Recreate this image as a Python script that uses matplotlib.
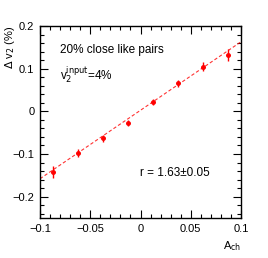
import numpy as np
import matplotlib
matplotlib.use("Agg")
from matplotlib import pyplot as plt
from matplotlib.ticker import MultipleLocator

plt.rcParams['font.family'] = ['Liberation Sans', 'DejaVu Sans']

# measured points
a_ch = [-0.0875, -0.0625, -0.0375, -0.0125, 0.0125, 0.0375, 0.0625, 0.0875]
dv2 = [-0.143, -0.098, -0.063, -0.027, 0.022, 0.066, 0.105, 0.132]
dv2_err = [0.014, 0.010, 0.008, 0.007, 0.007, 0.008, 0.010, 0.014]
a_ch_err = [0.002] * 8

# linear fit
slope = 1.605
intercept = 0.0025

fig = plt.figure(figsize=(2.68, 2.58), dpi=100)
ax = fig.add_axes([40/268, 1 - 218/258, 201/268, 192/258])

xl = np.array([-0.1, 0.1])
ax.plot(xl, slope*xl + intercept, color='red', ls=(0, (3, 2)), lw=0.8, alpha=0.8)
ax.errorbar(a_ch, dv2, yerr=dv2_err, xerr=a_ch_err, fmt='o', color='red',
            ms=2.5, elinewidth=1, capsize=0)

def fmt(v, p):
    return '0' if abs(v) < 1e-9 else ('%g' % v).replace('-', '\u2212')

ax.set_xlim(-0.1, 0.1)
ax.set_ylim(-0.25, 0.2)
ax.xaxis.set_major_locator(MultipleLocator(0.05))
ax.xaxis.set_minor_locator(MultipleLocator(0.01))
ax.yaxis.set_major_locator(MultipleLocator(0.1))
ax.yaxis.set_minor_locator(MultipleLocator(0.02))
ax.xaxis.set_major_formatter(plt.FuncFormatter(fmt))
ax.yaxis.set_major_formatter(plt.FuncFormatter(fmt))
ax.tick_params(which='both', direction='in', top=True, right=True, labelsize=8, width=0.8, pad=4)
ax.tick_params(which='major', length=6)
ax.tick_params(which='minor', length=3)
for s in ax.spines.values():
    s.set_linewidth(1)

ax.set_xlabel(r'A$_{\rm ch}$', fontsize=8, loc='right')
ax.set_ylabel(r'$\Delta$ v$_2$ (%)', fontsize=8, loc='top')
ax.yaxis.set_label_coords(-0.115, 1.0)

ax.text(0.1, 0.86, '20% close like pairs', transform=ax.transAxes, fontsize=8.5)
ax.text(0.1, 0.72, r'v$_2^{\rm input}$=4%', transform=ax.transAxes, fontsize=8.5)
ax.text(0.5, 0.22, 'r = 1.63\u00b10.05', transform=ax.transAxes, fontsize=8.5)

plt.savefig('out.png', dpi=100)
